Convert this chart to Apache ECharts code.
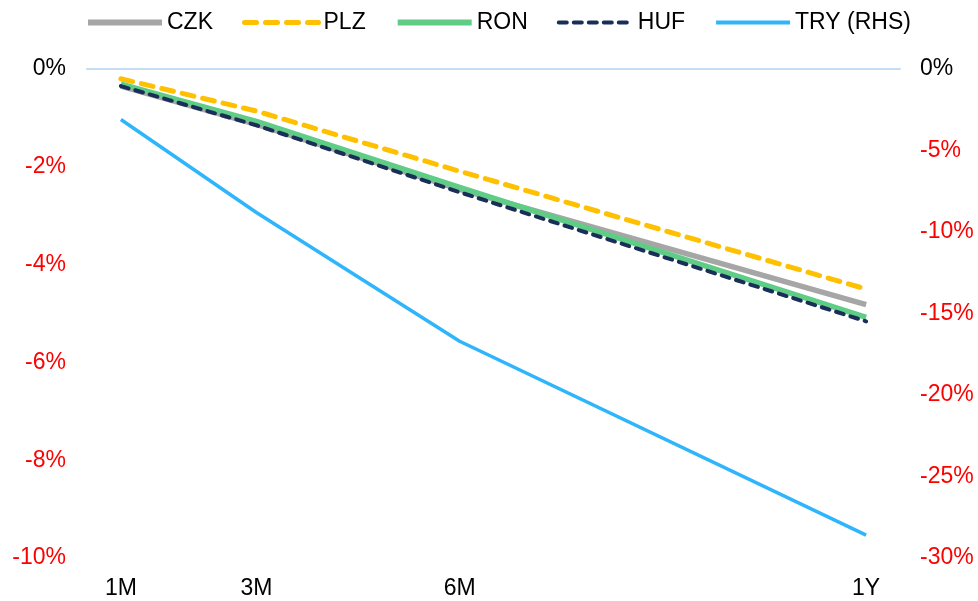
<!DOCTYPE html>
<html lang="en">
<head>
  <meta charset="UTF-8">
  <title>FX forward implied depreciation</title>
  <script src="https://cdn.jsdelivr.net/npm/echarts@6/dist/echarts.min.js"></script>
  <style>
    html, body { margin: 0; padding: 0; background: #fff; }
  </style>
</head>
<body>
<div id="main" style="width: 978px;height:601px;"></div>

<script type="text/javascript">
  // tenors in months, with their labels
  var tenors = [1, 3, 6, 12];
  var tenorLabels = ['1M', '3M', '6M', '1Y'];

  // values in % (LHS), TRY on the RHS
  var czk = [-0.35, -1.13, -2.46, -4.82];
  var plz = [-0.20, -0.86, -2.09, -4.50];
  var ron = [-0.31, -1.07, -2.42, -5.08];
  var huf = [-0.35, -1.15, -2.52, -5.16];
  var tryRhs = [-3.1, -8.8, -16.7, -28.6];

  function pairs(vals) {
    return tenors.map(function (t, i) { return [t, vals[i]]; });
  }

  var myChart = echarts.init(document.getElementById('main'));

  var fontFam = 'Liberation Sans, Arial, sans-serif';
  function pctColor(v) { return Number(v) < 0 ? '#ff0000' : '#000000'; }

  myChart.setOption({
    animation: false,
    legend: {
      top: 6,
      left: 80,
      itemWidth: 74,
      itemHeight: 14,
      itemGap: 29,
      itemStyle: { opacity: 0 },
      textStyle: { fontFamily: fontFam, fontSize: 23, color: '#000' },
      data: [
        { name: 'CZK', lineStyle: { width: 6 } },
        { name: 'PLZ', lineStyle: { width: 5 } },
        { name: 'RON', lineStyle: { width: 6 } },
        { name: 'HUF', lineStyle: { width: 4 } },
        { name: 'TRY (RHS)', lineStyle: { width: 4 } }
      ]
    },
    grid: { left: 87, right: 78, top: 69, bottom: 43 },
    xAxis: [{
      type: 'value',
      min: 0.5,
      max: 12.5,
      position: 'bottom',
      axisLine: { show: false },
      axisTick: { show: false },
      splitLine: { show: false },
      axisLabel: {
        customValues: tenors,
        margin: 19,
        color: '#000',
        fontFamily: fontFam,
        fontSize: 23,
        formatter: function (v) {
          var i = tenors.indexOf(v);
          return i >= 0 ? tenorLabels[i] : '';
        }
      }
    }, {
      type: 'value',
      min: 0.5,
      max: 12.5,
      position: 'top',
      axisLine: { show: true, onZero: false, lineStyle: { color: '#c5dcf5', width: 2 } },
      axisTick: { show: false },
      axisLabel: { show: false },
      splitLine: { show: false }
    }],
    yAxis: [{
      type: 'value',
      min: -10,
      max: 0,
      interval: 2,
      axisLine: { show: false },
      axisTick: { show: false },
      splitLine: { show: false },
      axisLabel: {
        margin: 21,
        fontFamily: fontFam,
        fontSize: 23,
        color: pctColor,
        formatter: '{value}%'
      }
    }, {
      type: 'value',
      min: -30,
      max: 0,
      interval: 5,
      position: 'right',
      axisLine: { show: false },
      axisTick: { show: false },
      splitLine: { show: false },
      axisLabel: {
        margin: 20,
        fontFamily: fontFam,
        fontSize: 23,
        color: pctColor,
        formatter: '{value}%'
      }
    }],
    series: [{
      name: 'CZK',
      type: 'line',
      symbol: 'none',
      data: pairs(czk),
      lineStyle: { color: '#a6a6a6', width: 5.5 },
      itemStyle: { color: '#a6a6a6' },
      z: 2
    }, {
      name: 'PLZ',
      type: 'line',
      symbol: 'none',
      data: pairs(plz),
      lineStyle: { color: '#ffc000', width: 5, type: [12, 9], cap: 'round' },
      itemStyle: { color: '#ffc000' },
      z: 3
    }, {
      name: 'RON',
      type: 'line',
      symbol: 'none',
      data: pairs(ron),
      lineStyle: { color: '#5fcd85', width: 5.5 },
      itemStyle: { color: '#5fcd85' },
      z: 3
    }, {
      name: 'HUF',
      type: 'line',
      symbol: 'none',
      data: pairs(huf),
      lineStyle: { color: '#1a2f57', width: 4, type: [8, 7], cap: 'round' },
      itemStyle: { color: '#1a2f57' },
      z: 4
    }, {
      name: 'TRY (RHS)',
      type: 'line',
      symbol: 'none',
      yAxisIndex: 1,
      data: pairs(tryRhs),
      lineStyle: { color: '#2eb5fb', width: 3.5 },
      itemStyle: { color: '#2eb5fb' },
      z: 2
    }]
  });
</script>
</body>
</html>
